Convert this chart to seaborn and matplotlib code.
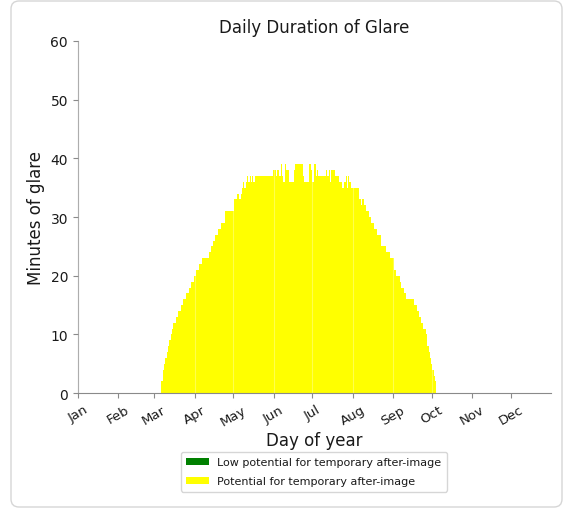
import numpy as np
import matplotlib
matplotlib.use("Agg")
import matplotlib.pyplot as plt
from matplotlib.patches import Patch, FancyBboxPatch
import seaborn as sns

# minuten blendung pro tag, erster tag mit blendung = tag 65 (Maerz)
first_day = 65
glare_minutes = [
    # Mar
    2, 4, 5, 6, 7, 8, 9, 10, 11, 12, 12, 13, 13, 14, 14, 15, 15, 16, 16, 17, 17, 18, 18, 19, 19,
    # Apr
    20, 20, 21, 21, 22, 22, 23, 23, 23, 23, 23, 23, 24, 25, 25, 26, 27, 27, 27, 28, 28, 29, 29, 29,
    31, 31, 31, 31, 31, 31,
    # May
    31, 33, 33, 34, 34, 33, 34, 35, 36, 35, 36, 37, 36, 37, 36, 37, 36,
    37, 37, 37, 37, 37, 37, 37, 37, 37, 37, 37, 37, 37, 37,
    # Jun
    38, 38, 37, 38, 38, 37, 39, 37, 36, 39, 38, 38, 36, 36, 36, 36, 38,
    39, 39, 39, 39, 39, 39, 37, 36, 36, 36, 36, 39, 38,
    # Jul
    36, 36, 39, 37, 38, 37, 37, 37, 37, 37, 37, 38, 37, 38, 36, 38, 38, 38, 37, 37, 37,
    36, 36, 35, 35, 36, 37, 35, 37, 36, 35,
    # Aug
    35, 35, 35, 35, 35, 33, 33, 32, 33, 32, 32, 31, 31, 30, 30, 29, 29, 28, 28, 27, 27, 27,
    25, 25, 25, 25, 24, 24, 24, 23, 23,
    # Sep
    23, 21, 21, 20, 20, 20, 19, 18, 18, 17, 17, 16, 16, 16, 16, 16, 16, 15, 15, 14, 14, 13,
    12, 12, 11, 11, 10, 8, 7, 6,
    # Oct
    5, 4, 3, 2,
]
days = np.arange(first_day, first_day + len(glare_minutes))

month_starts = [0, 31, 59, 90, 120, 151, 181, 212, 243, 273, 304, 334]
month_names = ["Jan", "Feb", "Mar", "Apr", "May", "Jun", "Jul", "Aug", "Sep", "Oct", "Nov", "Dec"]

series_labels = ["Low potential for temporary after-image", "Potential for temporary after-image"]
series_colors = ["green", "yellow"]

sns.set_style("ticks", {"axes.edgecolor": "#8a8a8a", "xtick.color": "#8a8a8a", "ytick.color": "#8a8a8a",
                        "text.color": "#1a1a1a", "axes.labelcolor": "#1a1a1a"})
plt.rcParams["font.family"] = ["DejaVu Sans"]

fig = plt.figure(figsize=(5.64, 5.10), dpi=100)
ax = fig.add_axes([0.138, 0.227, 0.839, 0.691])

sns.barplot(x=days, y=glare_minutes, native_scale=True, width=1, color=series_colors[1],
            saturation=1, errorbar=None, linewidth=0, ax=ax)

ax.set_xlim(0, 365)
ax.set_ylim(0, 60)
ax.set_xticks(month_starts)
ax.set_xticklabels(month_names, rotation=30, fontsize=9.5)
ax.set_yticks(range(0, 61, 10))
ax.tick_params(axis="y", labelsize=10)
ax.tick_params(labelcolor="#1a1a1a")
ax.xaxis.grid(True, color="white", alpha=0.3, linewidth=0.8)
ax.set_axisbelow(False)
sns.despine(ax=ax)

ax.set_title("Daily Duration of Glare", fontsize=12)
ax.set_xlabel("Day of year", fontsize=12, labelpad=2)
ax.set_ylabel("Minutes of glare", fontsize=12)

handles = [Patch(facecolor=c, edgecolor="none") for c in series_colors]
fig.legend(handles, series_labels, loc="upper center", bbox_to_anchor=(314 / 564, 1 - 447 / 510),
           fontsize=8, frameon=True, handlelength=2.0, handleheight=0.6, borderpad=0.5,
           labelspacing=0.8)

# runder rahmen um das bild
fig.patches.append(FancyBboxPatch((0.11, 0.02), 5.51, 5.06, boxstyle="round,pad=0,rounding_size=0.08",
                                  transform=fig.dpi_scale_trans, facecolor="none",
                                  edgecolor="#d6d6d6", linewidth=1))

fig.savefig("out.png", dpi=100)
